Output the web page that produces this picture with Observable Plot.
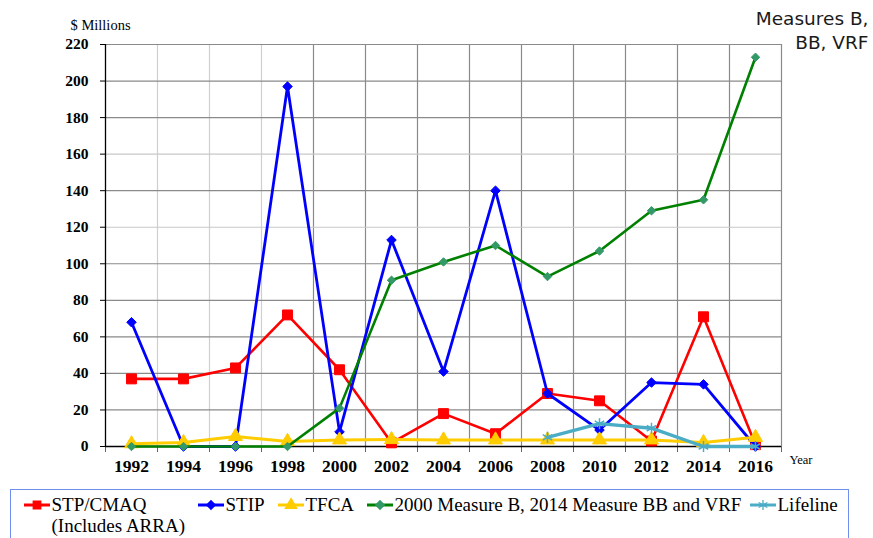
<!DOCTYPE html>
<html>
<head>
<meta charset="utf-8">
<script src="https://cdn.jsdelivr.net/npm/d3@7"></script>
<script src="https://cdn.jsdelivr.net/npm/@observablehq/plot@0.6"></script>
<style>
  html, body { margin: 0; padding: 0; background: #fff; }
  #wrap { position: relative; width: 873px; height: 538px; overflow: hidden; }
  #legend {
    position: absolute; left: 10px; top: 489px; width: 839px; height: 52px;
    border: 1.5px solid #6f8ff0; box-sizing: border-box;
    font-family: "Liberation Serif", serif; font-size: 19px; color: #000;
  }
  .item { position: absolute; top: 4px; display: flex; align-items: flex-start; line-height: 21px; white-space: nowrap; }
  .item svg { margin-top: 1px; margin-right: 2px; flex: none; }
</style>
</head>
<body>
<div id="wrap">
  <div id="chart"></div>
  <div id="legend"></div>
</div>
<script>
// ---- data ----
const years = [1992, 1994, 1996, 1998, 2000, 2002, 2004, 2006, 2008, 2010, 2012, 2014, 2016];
const stpCmaq = [37, 37, 43, 72, 42, 2, 18, 7, 29, 25, 3, 71, 1];
const stip = [68, 0, 0, 197, 8, 113, 41, 140, 29, 9, 35, 34, 0];
const tfca = [1.5, 2.2, 5.5, 2.8, 3.6, 3.8, 3.6, 3.6, 3.6, 3.6, 3.6, 2.2, 5];
const measureB = [0, 0, 0, 0, 21, 91, 101, 110, 93, 107, 129, 135, 213];
const lifeline = [null, null, null, null, null, null, null, null, 5, 12.5, 10, 0, 0];

const seriesNames = ["STP/CMAQ", "STIP", "TFCA", "2000 Measure B, 2014 Measure BB and VRF", "Lifeline"];
const yTicks = [0, 20, 40, 60, 80, 100, 120, 140, 160, 180, 200, 220];
const xLabelTicks = years;
const xGridTicks = [1993, 1995, 1997, 1999, 2001, 2003, 2005, 2007, 2009, 2011, 2013, 2015, 2017];
const xMinorTicks = [1991, ...xGridTicks];

// ---- style ----
const styles = [
  {line: "#ff0000", fill: "#ff0000", stroke: "#ff0000", symbol: "square", r: 5.6, sw: 2.6},
  {line: "#0000ff", fill: "#0000ff", stroke: "#0000ff", symbol: "diamond2", r: 4.3, sw: 2.8},
  {line: "#ffcc00", fill: "#ffcc00", stroke: "#ffcc00", symbol: "triangle", r: 5.2, sw: 3},
  {line: "#008000", fill: "#339966", stroke: "#339966", symbol: "diamond2", r: 3.8, sw: 2.6},
  {line: "#4bacc6", fill: "none", stroke: "#4bacc6", symbol: "asterisk", r: 5.2, sw: 3.4}
];
const allValues = [stpCmaq, stip, tfca, measureB, lifeline];

const rows = allValues.map((vals, i) =>
  years.map((y, j) => ({year: y, value: vals[j], series: seriesNames[i]})).filter(d => d.value != null)
);

const W = 873, H = 482;
const lightGridY = [120, 160];
const marks = [
  // grid
  Plot.ruleX(xGridTicks, {stroke: d => d <= 1997 ? "#cfcfcf" : "#8a8a8a", strokeWidth: 1.2, strokeOpacity: 1}),
  Plot.ruleY(yTicks.filter(t => t > 0), {stroke: d => lightGridY.includes(d) ? "#c8c8c8" : "#8a8a8a", strokeWidth: 1.2}),
  // axes
  Plot.axisY(yTicks, {anchor: "left", tickSize: 5, tickPadding: 12, fontWeight: "bold", fontSize: 15.5,
    fontFamily: "Liberation Serif", tickFormat: d => d, stroke: "#000", label: null}),
  Plot.axisX(xMinorTicks, {anchor: "bottom", tickSize: 6, tickFormat: () => "", stroke: "#666", label: null}),
  Plot.axisX(xLabelTicks, {anchor: "bottom", tickSize: 0, tickPadding: 13, fontWeight: "bold", fontSize: 17.5,
    fontFamily: "Liberation Serif", tickFormat: d => String(d), label: null}),
  Plot.ruleX([1991], {stroke: "#000", strokeWidth: 1.3}),
  Plot.ruleY([0], {stroke: "#000", strokeWidth: 1.3}),
];
rows.forEach((data, i) => {
  const s = styles[i];
  marks.push(Plot.line(data, {x: "year", y: "value", stroke: s.line, strokeWidth: s.sw, curve: "linear"}));
  marks.push(Plot.dot(data, {x: "year", y: "value", symbol: () => s.symbol, r: s.r,
    fill: s.fill, stroke: s.stroke, strokeWidth: s.fill === "none" ? 1.5 : 1}));
});
// annotations
marks.push(Plot.text(["$ Millions"], {frameAnchor: "top-left", dx: -35, dy: -25, textAnchor: "start",
  fontFamily: "Liberation Serif", fontSize: 14.5, fill: "#000"}));
marks.push(Plot.text(["Year"], {frameAnchor: "bottom-right", dx: 8, dy: 17, textAnchor: "start",
  fontFamily: "Liberation Serif", fontSize: 12.5, fill: "#000"}));
marks.push(Plot.text(["Measures B,\nBB, VRF"], {frameAnchor: "top-right", dx: 87, dy: -36, textAnchor: "end",
  lineAnchor: "top", lineHeight: 1.28, fontFamily: "DejaVu Sans", fontSize: 18.5, fill: "#1a1a1a"}));

const chart = Plot.plot({
  width: W, height: H,
  marginLeft: 105, marginRight: 92, marginTop: 44, marginBottom: H - 446,
  x: {domain: [1991, 2017], axis: null},
  y: {domain: [0, 220], axis: null},
  style: {background: "#fff", overflow: "visible"},
  marks
});
document.getElementById("chart").appendChild(chart);

// ---- legend ----
const legend = document.getElementById("legend");
const legendLabels = ["STP/CMAQ<br>(Includes ARRA)", "STIP", "TFCA", "2000 Measure B, 2014 Measure BB and VRF", "Lifeline"];
const legendX = [12.5, 186.5, 266.5, 355.5, 738.5];
const symPaths = {
  square: d3.symbol(d3.symbolSquare, 56)(),
  diamond2: d3.symbol(d3.symbolDiamond2, 46)(),
  triangle: d3.symbol(d3.symbolTriangle, 56)(),
  asterisk: d3.symbol(d3.symbolAsterisk, 70)()
};
legendLabels.forEach((lab, i) => {
  const s = styles[i];
  const div = document.createElement("div");
  div.className = "item";
  div.style.left = legendX[i] + "px";
  div.innerHTML = `<svg width="26" height="20"><line x1="0" x2="26" y1="10" y2="10" stroke="${s.line}" stroke-width="3"/>
    <path transform="translate(13,10)" d="${symPaths[s.symbol]}" fill="${s.fill}" stroke="${s.stroke}" stroke-width="1.3"/></svg><span>${lab}</span>`;
  legend.appendChild(div);
});
</script>
</body>
</html>
